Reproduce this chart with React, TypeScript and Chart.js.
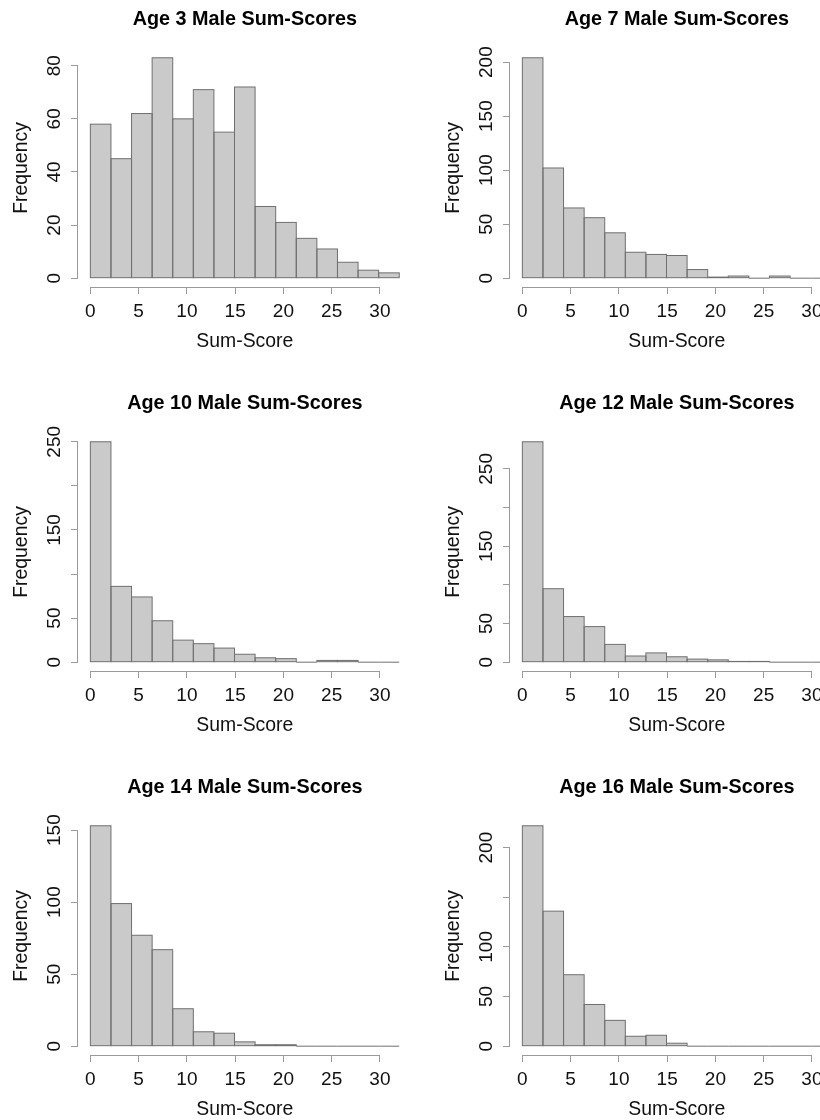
import React, { useEffect, useRef } from "react";
import { Chart, registerables } from "chart.js";

Chart.register(...registerables);

// ---------------- data ----------------
// histogram bins (15 bins spanning 0 .. 32)
const binStarts = [0, 2.1333, 4.2667, 6.4, 8.5333, 10.6667, 12.8, 14.9333, 17.0667, 19.2, 21.3333, 23.4667, 25.6, 27.7333, 29.8667];
const binWidth = 2.1333;

const titles = [
  "Age 3 Male Sum-Scores",
  "Age 7 Male Sum-Scores",
  "Age 10 Male Sum-Scores",
  "Age 12 Male Sum-Scores",
  "Age 14 Male Sum-Scores",
  "Age 16 Male Sum-Scores",
];

const age3Counts = [58, 45, 62, 83, 60, 71, 55, 72, 27, 21, 15, 11, 6, 3, 2];
const age7Counts = [204, 102, 65, 56, 42, 24, 22, 21, 8, 1, 2, 0, 2, 0, 0];
const age10Counts = [250, 86, 74, 47, 25, 21, 16, 9, 5, 4, 0, 2, 2, 0, 0];
const age12Counts = [285, 95, 59, 46, 23, 8, 12, 7, 4, 3, 1, 1, 0, 0, 0];
const age14Counts = [153, 99, 77, 67, 26, 10, 9, 3, 1, 1, 0, 0, 0, 0, 0];
const age16Counts = [222, 136, 72, 42, 26, 10, 11, 3, 0, 0, 0, 0, 0, 0, 0];

// y tick step per panel and which tick labels are printed
const yStepSizes = [20, 50, 50, 50, 50, 50];
const age3YLabels = [0, 20, 40, 60, 80];
const age7YLabels = [0, 50, 100, 150, 200];
const age10YLabels = [0, 50, 150, 250];
const age12YLabels = [0, 50, 150, 250];
const age14YLabels = [0, 50, 100, 150];
const age16YLabels = [0, 50, 100, 200];

const xStepSize = 5;
const xAxisTitle = "Sum-Score";
const yAxisTitle = "Frequency";

// ---------------- style ----------------
const FONT = "'Liberation Sans', Arial, Helvetica, sans-serif";
const TEXT = "#111111";
const AXIS = "#9a9a9a";
const BAR_FILL = "#cacaca";
const BAR_EDGE = "#707070";

const PANEL_W = 432;
const PANEL_H = 384;

// thin R-style outline around every bar element (shared 1px edges)
const barOutlinePlugin = {
  id: "barOutline",
  afterDatasetsDraw(chart: any) {
    const { ctx } = chart;
    const meta = chart.getDatasetMeta(0);
    ctx.save();
    ctx.strokeStyle = BAR_EDGE;
    ctx.lineWidth = 1;
    meta.data.forEach((el: any) => {
      const { x, y, base, width } = el.getProps(["x", "y", "base", "width"], true);
      const left = x - width / 2;
      const top = Math.min(y, base);
      const h = Math.abs(base - y);
      if (h < 0.01) {
        ctx.beginPath();
        ctx.moveTo(left, base);
        ctx.lineTo(left + width, base);
        ctx.stroke();
      } else {
        ctx.strokeRect(left, top, width, h);
      }
    });
    ctx.restore();
  },
};

const rAxesPlugin = {
  id: "rAxes",
  afterDraw(chart: any, _args: any, opts: any) {
    const { ctx, chartArea, scales } = chart;
    const x = scales.x;
    const y = scales.y;
    ctx.save();
    ctx.strokeStyle = AXIS;
    ctx.lineWidth = 1;
    // x axis line between first and last tick
    const xt = x.ticks;
    const yb = Math.round(chartArea.bottom) + 0.5;
    ctx.beginPath();
    ctx.moveTo(x.getPixelForValue(xt[0].value), yb);
    ctx.lineTo(x.getPixelForValue(xt[xt.length - 1].value), yb);
    ctx.stroke();
    // y axis line between first and last tick
    const yt = y.ticks;
    const xl = Math.round(chartArea.left) - 0.5;
    ctx.beginPath();
    ctx.moveTo(xl, y.getPixelForValue(yt[0].value));
    ctx.lineTo(xl, y.getPixelForValue(yt[yt.length - 1].value));
    ctx.stroke();
    // rotated y tick labels
    ctx.fillStyle = TEXT;
    ctx.font = `19px ${FONT}`;
    ctx.textAlign = "center";
    ctx.textBaseline = "middle";
    const shown: number[] = opts.labels || [];
    yt.forEach((t: any) => {
      if (!shown.includes(t.value)) return;
      const py = y.getPixelForValue(t.value);
      ctx.save();
      ctx.translate(chartArea.left - 23, py);
      ctx.rotate(-Math.PI / 2);
      ctx.fillText(String(t.value), 0, 0);
      ctx.restore();
    });
    ctx.restore();
  },
};

function Histogram({ title, counts, yStep, yLabels }: { title: string; counts: number[]; yStep: number; yLabels: number[] }) {
  const ref = useRef<HTMLCanvasElement>(null);
  useEffect(() => {
    const maxCount = Math.max(...counts);
    const xLo = binStarts[0];
    const xHi = binStarts[binStarts.length - 1] + binWidth;
    const xPad = (xHi - xLo) * 0.04;
    const yPad = maxCount * 0.04;
    const chart = new Chart(ref.current as HTMLCanvasElement, {
      type: "bar",
      data: {
        datasets: [
          {
            data: counts.map((c, i) => ({ x: binStarts[i] + binWidth / 2, y: c })),
            backgroundColor: BAR_FILL,
            borderWidth: 0,
            borderSkipped: false,
            barPercentage: 1,
            categoryPercentage: 1,
            inflateAmount: 0,
          } as any,
        ],
      },
      options: {
        responsive: false,
        animation: false,
        events: [],
        layout: { padding: { left: 0, right: 20.4, top: 0, bottom: 0 } },
        plugins: {
          legend: { display: false },
          tooltip: { enabled: false },
          title: {
            display: true,
            text: title,
            fullSize: false,
            color: "#000000",
            font: { family: FONT, size: 19.8, weight: "bold" },
            padding: { top: 8, bottom: 17.2 },
          },
          rAxes: { labels: yLabels },
        } as any,
        scales: {
          x: {
            type: "linear",
            min: xLo - xPad,
            max: xHi + xPad,
            offset: false,
            ticks: {
              stepSize: xStepSize,
              includeBounds: false,
              autoSkip: false,
              maxRotation: 0,
              padding: 6,
              color: TEXT,
              font: { family: FONT, size: 19 },
            },
            grid: { offset: false, drawOnChartArea: false, drawTicks: true, tickLength: 7, color: AXIS },
            border: { display: false },
            title: {
              display: true,
              text: xAxisTitle,
              color: TEXT,
              font: { family: FONT, size: 19.4 },
              padding: { top: 0, bottom: 31 },
            },
            afterFit: (s: any) => {
              s.height = 97;
            },
          } as any,
          y: {
            type: "linear",
            min: -yPad,
            max: maxCount + yPad,
            ticks: { display: false, stepSize: yStep, includeBounds: false },
            grid: { drawOnChartArea: false, drawTicks: true, tickLength: 7, color: AXIS },
            border: { display: false },
            title: {
              display: true,
              text: yAxisTitle,
              color: TEXT,
              font: { family: FONT, size: 19.4 },
              padding: { top: 10, bottom: 0 },
            },
            afterFit: (s: any) => {
              s.width = 78;
            },
          } as any,
        },
      },
      plugins: [barOutlinePlugin as any, rAxesPlugin as any],
    });
    return () => chart.destroy();
  }, [title, counts, yStep, yLabels]);
  return <canvas ref={ref} width={PANEL_W} height={PANEL_H} style={{ display: "block" }} />;
}

const panelCounts = [age3Counts, age7Counts, age10Counts, age12Counts, age14Counts, age16Counts];
const panelYLabels = [age3YLabels, age7YLabels, age10YLabels, age12YLabels, age14YLabels, age16YLabels];

export default function App() {
  return (
    <div
      style={{
        position: "absolute",
        left: 0,
        top: 0,
        width: 820,
        height: 1120,
        overflow: "hidden",
        background: "#ffffff",
      }}
    >
      {titles.map((t, i) => (
        <div
          key={t}
          style={{
            position: "absolute",
            left: (i % 2) * PANEL_W,
            top: Math.floor(i / 2) * PANEL_H,
            width: PANEL_W,
            height: PANEL_H,
          }}
        >
          <Histogram title={t} counts={panelCounts[i]} yStep={yStepSizes[i]} yLabels={panelYLabels[i]} />
        </div>
      ))}
    </div>
  );
}
